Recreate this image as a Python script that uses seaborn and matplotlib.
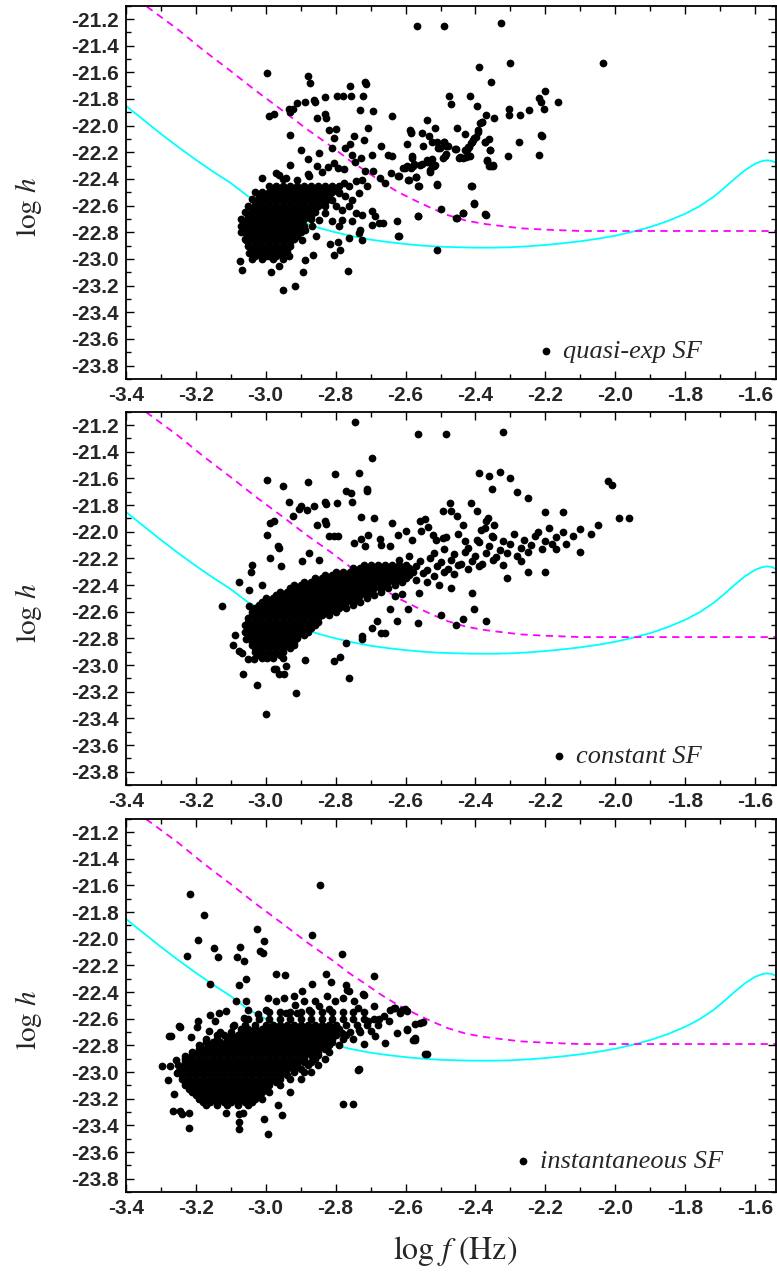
import pandas as pd
import seaborn as sns
import matplotlib
matplotlib.use('Agg')
import matplotlib.pyplot as plt
from matplotlib.ticker import MultipleLocator, FormatStrFormatter

# detector curves, identical in every panel
cyan_x = [-3.40, -3.35, -3.30, -3.25, -3.20, -3.15, -3.10, -3.05, -3.00, -2.95, -2.90, -2.85, -2.80,
          -2.75, -2.70, -2.65, -2.60, -2.55, -2.50, -2.45, -2.40, -2.35, -2.30, -2.25, -2.20, -2.15,
          -2.10, -2.05, -2.00, -1.95, -1.90, -1.85, -1.80, -1.76, -1.72, -1.69, -1.66, -1.63, -1.60,
          -1.58, -1.567, -1.555, -1.545, -1.535]
cyan_y = [-21.85, -21.955, -22.06, -22.16, -22.255, -22.345, -22.43, -22.53, -22.60, -22.66, -22.72, -22.765, -22.80,
          -22.83, -22.855, -22.873, -22.888, -22.90, -22.908, -22.912, -22.915, -22.915, -22.912, -22.905, -22.895,
          -22.882, -22.867, -22.848, -22.825, -22.795, -22.76, -22.715, -22.66, -22.605, -22.535, -22.47, -22.40,
          -22.335, -22.285, -22.265, -22.26, -22.263, -22.273, -22.29]
mag_x = [-3.40, -3.343, -3.25, -3.18, -3.10, -3.027, -2.95, -2.88, -2.81, -2.76, -2.714, -2.67, -2.62,
         -2.57, -2.525, -2.48, -2.43, -2.38, -2.335, -2.27, -2.20, -2.10, -1.535]
mag_y = [-20.99, -21.10, -21.28, -21.43, -21.59, -21.74, -21.89, -22.03, -22.16, -22.26, -22.34, -22.42, -22.50,
         -22.565, -22.62, -22.67, -22.71, -22.735, -22.75, -22.77, -22.78, -22.79, -22.79]

pts_quasi = [
    (-2.997, -21.602), (-2.879, -21.624), (-2.873, -21.682), (-2.758, -21.702), (-2.715, -21.669), (-2.712, -21.689),
    (-2.391, -21.557), (-2.355, -21.672), (-2.909, -21.831), (-2.886, -21.824), (-2.862, -21.806), (-2.859, -21.819),
    (-2.829, -21.786), (-2.797, -21.781), (-2.779, -21.781), (-2.755, -21.776), (-2.723, -21.781), (-2.475, -21.781),
    (-2.471, -21.839), (-2.416, -21.781), (-2.397, -21.849), (-2.990, -21.931), (-2.976, -21.911), (-2.933, -21.874),
    (-2.921, -21.874), (-2.930, -21.899), (-2.854, -21.944), (-2.829, -21.911), (-2.827, -21.939), (-2.729, -21.881),
    (-2.692, -21.891), (-2.639, -21.929), (-2.539, -21.959), (-2.369, -21.919), (-2.347, -21.944), (-2.381, -21.969),
    (-2.388, -21.981), (-2.930, -22.069), (-2.819, -22.031), (-2.800, -22.024), (-2.805, -22.094), (-2.747, -22.076),
    (-2.719, -22.106), (-2.708, -22.021), (-2.587, -22.036), (-2.552, -22.056), (-2.532, -22.081), (-2.516, -22.019),
    (-2.452, -22.019), (-2.431, -22.066), (-2.393, -22.036), (-2.399, -22.086), (-2.407, -22.106), (-2.362, -22.099),
    (-2.372, -22.124), (-2.413, -22.131), (-2.421, -22.161), (-2.431, -22.181), (-2.900, -22.181), (-2.879, -22.248),
    (-2.848, -22.206), (-2.810, -22.169), (-2.772, -22.169), (-2.760, -22.136), (-2.753, -22.218), (-2.726, -22.243),
    (-2.696, -22.218), (-2.670, -22.151), (-2.651, -22.218), (-2.639, -22.231), (-2.597, -22.139), (-2.582, -22.243),
    (-2.549, -22.156), (-2.525, -22.119), (-2.506, -22.169), (-2.489, -22.119), (-2.483, -22.156), (-2.486, -22.231),
    (-2.459, -22.174), (-2.445, -22.238), (-2.426, -22.238), (-2.416, -22.226), (-2.359, -22.181), (-2.368, -22.261),
    (-2.357, -22.306), (-2.350, -22.293), (-2.931, -22.293), (-2.969, -22.356), (-3.011, -22.391), (-2.961, -22.368),
    (-2.943, -22.393), (-2.876, -22.381), (-2.852, -22.301), (-2.821, -22.313), (-2.805, -22.281), (-2.793, -22.318),
    (-2.775, -22.326), (-2.745, -22.276), (-2.715, -22.338), (-2.693, -22.343), (-2.672, -22.393), (-2.658, -22.431),
    (-2.641, -22.356), (-2.622, -22.376), (-2.608, -22.318), (-2.597, -22.306), (-2.585, -22.318), (-2.575, -22.286),
    (-2.559, -22.293), (-2.540, -22.256), (-2.525, -22.306), (-2.516, -22.293), (-2.511, -22.443), (-2.592, -22.406),
    (-2.571, -22.388), (-2.563, -22.451), (-2.412, -22.456), (-2.405, -22.586), (-2.500, -22.623), (-2.437, -22.655),
    (-2.456, -22.693), (-2.372, -22.665), (-2.565, -22.680), (-2.509, -22.930),
    (-2.777, -22.431), (-2.762, -22.456), (-2.743, -22.418), (-2.724, -22.406),
    (-2.710, -22.456), (-2.734, -22.506), (-2.753, -22.556), (-2.772, -22.531), (-2.791, -22.506), (-2.810, -22.556),
    (-2.800, -22.606), (-2.781, -22.631), (-2.762, -22.606), (-2.743, -22.655), (-2.724, -22.668), (-2.753, -22.718),
    (-2.781, -22.705), (-2.810, -22.718), (-2.791, -22.755), (-2.696, -22.643), (-2.687, -22.680), (-2.677, -22.730),
    (-2.663, -22.730), (-2.696, -22.743), (-2.625, -22.718), (-2.622, -22.825), (-2.729, -22.780), (-2.724, -22.855),
    (-2.734, -22.805), (-2.762, -22.843), (-2.793, -22.875), (-2.816, -22.885), (-2.788, -22.935), (-2.805, -22.968),
    (-2.765, -23.087), (-2.829, -22.655), (-2.848, -22.705), (-2.867, -22.755), (-2.886, -22.780), (-2.857, -22.830),
    (-2.895, -22.855), (-2.88, -22.36), (-2.84, -22.35), (-2.95, -22.40), (-2.91, -22.41),
    (-3.072, -23.018), (-3.068, -23.080), (-3.056, -22.855), (-3.070, -22.800), (-3.051, -22.755), (-2.985, -23.097),
    (-2.949, -23.230), (-2.916, -23.205), (-2.892, -23.097), (-2.864, -22.968), (-2.888, -23.005), (-2.933, -22.980),
    (-2.961, -23.055), (-2.999, -22.980), (-3.023, -22.955), (-3.047, -22.955),
    (-2.568, -21.252), (-2.489, -21.250), (-2.326, -21.232), (-2.301, -21.532), (-2.035, -21.532), (-2.217, -21.794),
    (-2.201, -21.737), (-2.212, -21.824), (-2.163, -21.822), (-2.304, -21.874), (-2.304, -21.922), (-2.274, -21.922),
    (-2.247, -21.882), (-2.203, -21.874), (-2.585, -22.044), (-2.583, -22.056), (-2.382, -21.974), (-2.394, -22.049),
    (-2.404, -22.089), (-2.409, -22.124), (-2.418, -22.157), (-2.425, -22.186), (-2.435, -22.239), (-2.420, -22.231),
    (-2.446, -22.239), (-2.456, -22.176), (-2.479, -22.151), (-2.490, -22.119), (-2.511, -22.119), (-2.501, -22.164),
    (-2.484, -22.214), (-2.492, -22.244), (-2.523, -22.251), (-2.518, -22.299), (-2.540, -22.274), (-2.553, -22.286),
    (-2.530, -22.331), (-2.531, -22.349), (-2.570, -22.386), (-2.591, -22.406), (-2.582, -22.231), (-2.580, -22.306),
    (-2.601, -22.318), (-2.620, -22.374), (-2.511, -22.436), (-2.562, -22.449), (-2.409, -22.456), (-2.403, -22.581),
    (-2.565, -22.681), (-2.454, -22.693), (-2.436, -22.656), (-2.370, -22.668), (-2.373, -22.124), (-2.359, -22.186),
    (-2.367, -22.264), (-2.362, -22.306), (-2.349, -22.299), (-2.307, -22.231), (-2.276, -22.119), (-2.219, -22.219),
    (-2.214, -22.069), (-2.209, -22.074), (-2.620, -22.830),
]
# solid core of each cloud: rows of overlapping dots, one row per log h value
core_quasi = [
    (-22.45, [-2.99, -2.97, -2.95, -2.93, -2.91, -2.89, -2.87, -2.85, -2.83, -2.81, -2.79]),
    (-22.475, [-2.98, -2.96, -2.94, -2.92, -2.90, -2.88, -2.86, -2.84, -2.82, -2.80]),
    (-22.50, [-3.03, -3.01, -2.99, -2.97, -2.95, -2.93, -2.91, -2.89, -2.87, -2.85, -2.83, -2.81, -2.79]),
    (-22.525, [-3.02, -3.00, -2.98, -2.96, -2.94, -2.92, -2.90, -2.88, -2.86, -2.84, -2.82]),
    (-22.55, [-3.04, -3.02, -3.00, -2.98, -2.96, -2.94, -2.92, -2.90, -2.88, -2.86, -2.84, -2.82]),
    (-22.575, [-3.03, -3.01, -2.99, -2.97, -2.95, -2.93, -2.91, -2.89, -2.87, -2.85, -2.83]),
    (-22.60, [-3.05, -3.03, -3.01, -2.99, -2.97, -2.95, -2.93, -2.91, -2.89, -2.87, -2.85, -2.83]),
    (-22.625, [-3.04, -3.02, -3.00, -2.98, -2.96, -2.94, -2.92, -2.90, -2.88, -2.86]),
    (-22.65, [-3.06, -3.04, -3.02, -3.00, -2.98, -2.96, -2.94, -2.92, -2.90, -2.88, -2.86]),
    (-22.675, [-3.05, -3.03, -3.01, -2.99, -2.97, -2.95, -2.93, -2.91, -2.89, -2.87]),
    (-22.70, [-3.07, -3.05, -3.03, -3.01, -2.99, -2.97, -2.95, -2.93, -2.91, -2.89, -2.87]),
    (-22.725, [-3.06, -3.04, -3.02, -3.00, -2.98, -2.96, -2.94, -2.92, -2.90]),
    (-22.75, [-3.07, -3.05, -3.03, -3.01, -2.99, -2.97, -2.95, -2.93, -2.91, -2.89]),
    (-22.775, [-3.06, -3.04, -3.02, -3.00, -2.98, -2.96, -2.94, -2.92, -2.90]),
    (-22.80, [-3.06, -3.04, -3.02, -3.00, -2.98, -2.96, -2.94, -2.92, -2.90]),
    (-22.825, [-3.05, -3.03, -3.01, -2.99, -2.97, -2.95, -2.93, -2.91]),
    (-22.85, [-3.06, -3.04, -3.02, -3.00, -2.98, -2.96, -2.94, -2.92]),
    (-22.875, [-3.05, -3.03, -3.01, -2.99, -2.97, -2.95, -2.93]),
    (-22.90, [-3.05, -3.03, -3.01, -2.99, -2.97, -2.95, -2.93]),
    (-22.925, [-3.04, -3.02, -3.00, -2.98, -2.96, -2.94]),
    (-22.95, [-3.04, -3.02, -3.00, -2.98, -2.96, -2.94]),
    (-22.975, [-3.03, -3.01, -2.99, -2.97, -2.95]),
    (-23.00, [-3.04, -3.01, -2.98, -2.95]),
]

pts_const = [
    (-2.745, -21.18), (-2.563, -21.27), (-2.483, -21.27), (-2.321, -21.25),
    (-2.695, -21.450), (-2.801, -21.567), (-2.734, -21.560), (-2.390, -21.562), (-2.362, -21.585), (-2.353, -21.677),
    (-2.996, -21.610), (-2.951, -21.660), (-2.879, -21.630), (-2.769, -21.697), (-2.755, -21.710), (-2.711, -21.677),
    (-2.709, -21.697), (-2.933, -21.774), (-2.905, -21.827), (-2.900, -21.809), (-2.883, -21.834), (-2.862, -21.809),
    (-2.829, -21.779), (-2.828, -21.792), (-2.796, -21.784), (-2.753, -21.779), (-2.987, -21.934), (-2.976, -21.917),
    (-2.922, -21.879), (-2.852, -21.947), (-2.829, -21.922), (-2.827, -21.939), (-2.727, -21.887), (-2.691, -21.897),
    (-2.639, -21.932), (-2.473, -21.784), (-2.414, -21.784), (-2.492, -21.847), (-2.470, -21.847), (-2.453, -21.884),
    (-2.397, -21.847), (-2.435, -21.947), (-2.369, -21.922), (-2.348, -21.947), (-2.364, -21.897), (-2.995, -22.022),
    (-2.966, -22.109), (-2.962, -22.122), (-2.987, -22.196), (-3.039, -22.251), (-3.042, -22.301), (-2.957, -22.254),
    (-3.075, -22.376), (-3.047, -22.434), (-3.011, -22.401), (-3.125, -22.559), (-3.047, -22.559), (-2.875, -22.159),
    (-2.895, -22.221), (-2.848, -22.209), (-2.818, -22.034), (-2.804, -22.029), (-2.793, -22.029), (-2.746, -22.084),
    (-2.726, -22.054), (-2.715, -22.109), (-2.708, -22.027), (-2.672, -22.054), (-2.669, -22.097), (-2.644, -22.109),
    (-2.622, -22.022), (-2.599, -21.997), (-2.582, -22.059), (-2.558, -21.922), (-2.544, -21.902), (-2.537, -21.964),
    (-2.556, -21.992), (-2.521, -22.022), (-2.514, -22.059), (-2.492, -22.047), (-2.483, -22.042), (-2.450, -22.017),
    (-2.431, -22.072), (-2.397, -22.059), (-2.383, -21.984), (-2.372, -21.972), (-2.352, -22.034), (-2.505, -22.396),
    (-2.470, -22.421), (-2.409, -22.459), (-2.403, -22.583), (-2.499, -22.628), (-2.435, -22.658), (-2.456, -22.696),
    (-2.369, -22.671), (-2.563, -22.683), (-2.625, -22.671), (-2.644, -22.583), (-2.592, -22.583), (-2.562, -22.459),
    (-2.609, -22.464), (-2.630, -22.484), (-3.066, -23.070), (-3.025, -23.153), (-2.914, -23.208), (-2.762, -23.095),
    (-2.805, -22.971), (-2.786, -22.938), (-2.888, -22.963), (-2.770, -22.838), (-2.724, -22.808), (-2.724, -22.783),
    (-2.696, -22.721), (-2.669, -22.758), (-2.658, -22.758), (-2.682, -22.671), (-3.087, -22.778), (-3.094, -22.846),
    (-3.075, -22.898), (-3.068, -22.908), (-3.049, -22.958), (-3.033, -22.958), (-2.962, -23.070), (-2.947, -23.070),
    (-2.969, -23.033), (-2.976, -23.033), (-2.941, -23.008), (-2.995, -22.946), (-3.018, -22.883), (-3.028, -22.833),
    (-3.056, -22.808), (-3.00, -23.37),
    (-2.22, -22.00), (-2.19, -21.97), (-2.15, -22.00), (-2.12, -22.03), (-2.10, -21.98), (-2.07, -22.02),
    (-2.14, -22.09), (-2.17, -22.13), (-2.02, -21.62), (-2.01, -21.65), (-2.05, -21.95), (-1.99, -21.90),
    (-1.96, -21.90), (-2.25, -21.75), (-2.30, -21.60), (-2.33, -21.55), (-2.28, -21.70), (-2.20, -21.85),
    (-2.15, -21.85), (-2.10, -22.15), (-2.25, -22.30), (-2.20, -22.30), (-2.31, -22.35), (-2.27, -22.22),
    # right half of the band, where single dots can still be told apart
    (-2.35, -22.04), (-2.32, -22.07), (-2.29, -22.02), (-2.26, -22.06), (-2.23, -22.03), (-2.20, -22.07),
    (-2.17, -22.04), (-2.42, -22.12), (-2.39, -22.08), (-2.36, -22.11), (-2.33, -22.14), (-2.30, -22.09),
    (-2.27, -22.12), (-2.24, -22.10), (-2.21, -22.13), (-2.18, -22.09), (-2.52, -22.16), (-2.49, -22.13),
    (-2.46, -22.17), (-2.43, -22.15), (-2.40, -22.18), (-2.37, -22.16), (-2.34, -22.19), (-2.31, -22.16),
    (-2.28, -22.18), (-2.25, -22.15), (-2.62, -22.21), (-2.59, -22.18), (-2.56, -22.22), (-2.53, -22.20),
    (-2.50, -22.23), (-2.47, -22.21), (-2.44, -22.24), (-2.41, -22.22), (-2.38, -22.24), (-2.35, -22.21),
    (-2.32, -22.25), (-2.57, -22.26), (-2.54, -22.29), (-2.51, -22.26), (-2.48, -22.28), (-2.45, -22.25),
    (-2.42, -22.28), (-2.39, -22.26), (-2.55, -22.31), (-2.52, -22.33), (-2.49, -22.30), (-2.46, -22.32),
    (-2.57, -22.36), (-2.54, -22.38),
]
core_const = [
    (-22.25, [-2.72, -2.70, -2.68, -2.66, -2.64, -2.62, -2.60]),
    (-22.275, [-2.75, -2.73, -2.71, -2.69, -2.67, -2.65, -2.63, -2.61, -2.59]),
    (-22.30, [-2.80, -2.78, -2.76, -2.74, -2.72, -2.70, -2.68, -2.66, -2.64, -2.62, -2.60, -2.58]),
    (-22.325, [-2.83, -2.81, -2.79, -2.77, -2.75, -2.73, -2.71, -2.69, -2.67, -2.65, -2.63, -2.61, -2.59]),
    (-22.35, [-2.86, -2.84, -2.82, -2.80, -2.78, -2.76, -2.74, -2.72, -2.70, -2.68, -2.66, -2.64, -2.62, -2.60]),
    (-22.375, [-2.89, -2.87, -2.85, -2.83, -2.81, -2.79, -2.77, -2.75, -2.73, -2.71, -2.69, -2.67, -2.65, -2.63,
               -2.61]),
    (-22.40, [-2.92, -2.90, -2.88, -2.86, -2.84, -2.82, -2.80, -2.78, -2.76, -2.74, -2.72, -2.70, -2.68, -2.66,
              -2.63]),
    (-22.425, [-2.93, -2.91, -2.89, -2.87, -2.85, -2.83, -2.81, -2.79, -2.77, -2.75, -2.73, -2.71, -2.69, -2.67,
               -2.65]),
    (-22.45, [-2.96, -2.94, -2.92, -2.90, -2.88, -2.86, -2.84, -2.82, -2.80, -2.78, -2.76, -2.74, -2.72, -2.70,
              -2.67]),
    (-22.475, [-2.97, -2.95, -2.93, -2.91, -2.89, -2.87, -2.85, -2.83, -2.81, -2.79, -2.77, -2.75, -2.73, -2.71,
               -2.69]),
    (-22.50, [-3.00, -2.98, -2.96, -2.94, -2.92, -2.90, -2.88, -2.86, -2.84, -2.82, -2.80, -2.78, -2.76, -2.74,
              -2.71]),
    (-22.525, [-3.01, -2.99, -2.97, -2.95, -2.93, -2.91, -2.89, -2.87, -2.85, -2.83, -2.81, -2.79, -2.77, -2.75,
               -2.73]),
    (-22.55, [-3.02, -3.00, -2.98, -2.96, -2.94, -2.92, -2.90, -2.88, -2.86, -2.84, -2.82, -2.80, -2.78, -2.75]),
    (-22.575, [-3.03, -3.01, -2.99, -2.97, -2.95, -2.93, -2.91, -2.89, -2.87, -2.85, -2.83, -2.81, -2.79, -2.77]),
    (-22.60, [-3.04, -3.02, -3.00, -2.98, -2.96, -2.94, -2.92, -2.90, -2.88, -2.86, -2.84, -2.82, -2.80]),
    (-22.625, [-3.04, -3.02, -3.00, -2.98, -2.96, -2.94, -2.92, -2.90, -2.88, -2.86, -2.84, -2.82]),
    (-22.65, [-3.05, -3.03, -3.01, -2.99, -2.97, -2.95, -2.93, -2.91, -2.89, -2.87, -2.85]),
    (-22.675, [-3.05, -3.03, -3.01, -2.99, -2.97, -2.95, -2.93, -2.91, -2.89, -2.87, -2.85]),
    (-22.70, [-3.06, -3.04, -3.02, -3.00, -2.98, -2.96, -2.94, -2.92, -2.90, -2.88, -2.86]),
    (-22.725, [-3.05, -3.03, -3.01, -2.99, -2.97, -2.95, -2.93, -2.91, -2.89, -2.87]),
    (-22.75, [-3.06, -3.04, -3.02, -3.00, -2.98, -2.96, -2.94, -2.92, -2.90, -2.88]),
    (-22.775, [-3.05, -3.03, -3.01, -2.99, -2.97, -2.95, -2.93, -2.91, -2.89]),
    (-22.80, [-3.05, -3.03, -3.01, -2.99, -2.97, -2.95, -2.93, -2.91]),
    (-22.825, [-3.04, -3.02, -3.00, -2.98, -2.96, -2.94, -2.92]),
    (-22.85, [-3.04, -3.02, -3.00, -2.98, -2.96, -2.94, -2.92]),
    (-22.875, [-3.03, -3.01, -2.99, -2.97, -2.95, -2.93]),
    (-22.90, [-3.03, -3.01, -2.99, -2.97, -2.95]),
    (-22.925, [-3.02, -3.00, -2.98, -2.96]),
    (-22.95, [-3.01, -2.98, -2.95]),
]

pts_inst = [
    (-3.217, -21.667), (-2.844, -21.595), (-3.175, -21.820), (-3.192, -22.007), (-3.225, -22.132), (-3.148, -22.067),
    (-3.137, -22.137), (-3.073, -22.064), (-3.082, -22.137), (-3.062, -22.169), (-3.026, -21.929), (-3.005, -22.019),
    (-3.015, -22.094), (-3.008, -22.107), (-2.868, -21.969), (-2.781, -22.117), (-3.158, -22.336), (-3.075, -22.349),
    (-3.056, -22.299), (-2.971, -22.264), (-2.945, -22.269), (-2.868, -22.339), (-2.826, -22.264), (-2.691, -22.277),
    (-2.814, -22.326), (-2.771, -22.349), (-2.762, -22.394), (-2.721, -22.411), (-2.549, -22.626), (-2.544, -22.868),
    (-3.244, -22.661), (-3.271, -22.731), (-3.297, -22.951), (-3.212, -22.738), (-3.163, -22.694), (-3.196, -22.664),
    (-3.192, -22.619), (-3.160, -22.569), (-3.146, -22.619), (-3.132, -22.556), (-3.113, -22.539), (-3.084, -22.469),
    (-3.056, -22.469), (-3.051, -22.531), (-3.094, -22.656), (-3.061, -22.594), (-3.023, -22.561), (-2.994, -22.444),
    (-2.999, -22.531), (-2.971, -22.469), (-2.947, -22.444), (-2.942, -22.556), (-2.918, -22.431), (-2.897, -22.394),
    (-2.890, -22.469), (-2.915, -22.494), (-2.909, -22.556), (-2.876, -22.531), (-2.859, -22.469), (-2.847, -22.506),
    (-2.824, -22.431), (-2.819, -22.526), (-2.802, -22.469), (-2.779, -22.444), (-2.767, -22.381), (-2.748, -22.469),
    (-2.736, -22.519), (-2.719, -22.419), (-2.707, -22.619), (-2.691, -22.506), (-2.675, -22.601), (-2.662, -22.581),
    (-2.643, -22.531), (-2.629, -22.519), (-2.615, -22.556), (-2.601, -22.526), (-2.572, -22.636), (-2.596, -22.676),
    (-2.574, -22.756), (-2.625, -22.706), (-2.648, -22.619), (-2.658, -22.781), (-2.686, -22.731), (-2.700, -22.694),
    (-2.719, -22.793), (-2.734, -22.681), (-2.735, -22.981), (-2.781, -22.706), (-2.800, -22.656), (-2.838, -22.681),
    (-3.132, -22.806), (-3.160, -22.831), (-3.189, -22.806), (-3.208, -22.856), (-3.231, -22.881), (-3.255, -22.906),
    (-3.274, -22.956),
    (-3.278, -23.063), (-3.266, -23.293), (-3.245, -23.293), (-3.239, -23.318), (-3.220, -23.305), (-3.220, -23.418),
    (-3.261, -23.168), (-3.253, -23.006), (-3.276, -22.731), (-3.247, -22.656), (-3.004, -23.355), (-2.992, -23.467),
    (-3.076, -23.375), (-3.076, -23.430), (-3.075, -23.318), (-3.066, -23.305), (-2.952, -23.325), (-2.965, -23.250),
    (-3.113, -23.305), (-2.778, -23.243), (-2.751, -23.243), (-2.733, -22.980), (-2.539, -22.868), (-2.560, -22.631),
    (-2.578, -22.756), (-2.572, -22.743), (-2.597, -22.681), (-2.609, -22.531), (-2.597, -22.544), (-2.634, -22.519),
    (-2.93, -23.15), (-2.90, -23.05), (-2.87, -23.00),
]
core_inst = [
    (-22.55, [-2.99, -2.96, -2.93, -2.90, -2.87, -2.84, -2.81, -2.78, -2.75, -2.72]),
    (-22.60, [-3.05, -3.02, -2.99, -2.96, -2.93, -2.90, -2.87, -2.84, -2.81, -2.78, -2.75, -2.72, -2.69]),
    (-22.65, [-3.09, -3.06, -3.03, -3.00, -2.98, -2.96, -2.94, -2.92, -2.90, -2.88, -2.86, -2.84, -2.82, -2.80,
              -2.77, -2.74, -2.71, -2.68]),
    (-22.675, [-3.07, -3.05, -3.03, -3.01, -2.99, -2.97, -2.95, -2.93, -2.91, -2.89, -2.87, -2.85, -2.83, -2.81,
               -2.79]),
    (-22.70, [-3.13, -3.10, -3.07, -3.05, -3.03, -3.01, -2.99, -2.97, -2.95, -2.93, -2.91, -2.89, -2.87, -2.85,
              -2.83, -2.81, -2.79, -2.76, -2.73]),
    (-22.725, [-3.14, -3.12, -3.10, -3.08, -3.06, -3.04, -3.02, -3.00, -2.98, -2.96, -2.94, -2.92, -2.90, -2.88,
               -2.86, -2.84, -2.82, -2.80, -2.77]),
    (-22.75, [-3.17, -3.14, -3.11, -3.09, -3.07, -3.05, -3.03, -3.01, -2.99, -2.97, -2.95, -2.93, -2.91, -2.89,
              -2.87, -2.85, -2.83, -2.81, -2.78, -2.75]),
    (-22.775, [-3.17, -3.15, -3.13, -3.11, -3.09, -3.07, -3.05, -3.03, -3.01, -2.99, -2.97, -2.95, -2.93, -2.91,
               -2.89, -2.87, -2.85, -2.83, -2.81]),
    (-22.80, [-3.19, -3.16, -3.14, -3.12, -3.10, -3.08, -3.06, -3.04, -3.02, -3.00, -2.98, -2.96, -2.94, -2.92,
              -2.90, -2.88, -2.86, -2.84, -2.82, -2.79]),
    (-22.825, [-3.19, -3.17, -3.15, -3.13, -3.11, -3.09, -3.07, -3.05, -3.03, -3.01, -2.99, -2.97, -2.95, -2.93,
               -2.91, -2.89, -2.87, -2.85, -2.83]),
    (-22.85, [-3.21, -3.19, -3.17, -3.15, -3.13, -3.11, -3.09, -3.07, -3.05, -3.03, -3.01, -2.99, -2.97, -2.95,
              -2.93, -2.91, -2.89, -2.87, -2.85, -2.82]),
    (-22.875, [-3.21, -3.19, -3.17, -3.15, -3.13, -3.11, -3.09, -3.07, -3.05, -3.03, -3.01, -2.99, -2.97, -2.95,
               -2.93, -2.91, -2.89, -2.87, -2.85]),
    (-22.90, [-3.23, -3.21, -3.19, -3.17, -3.15, -3.13, -3.11, -3.09, -3.07, -3.05, -3.03, -3.01, -2.99, -2.97,
              -2.95, -2.93, -2.91, -2.89, -2.86, -2.83]),
    (-22.925, [-3.23, -3.21, -3.19, -3.17, -3.15, -3.13, -3.11, -3.09, -3.07, -3.05, -3.03, -3.01, -2.99, -2.97,
               -2.95, -2.93, -2.91, -2.89, -2.87]),
    (-22.95, [-3.25, -3.23, -3.21, -3.19, -3.17, -3.15, -3.13, -3.11, -3.09, -3.07, -3.05, -3.03, -3.01, -2.99,
              -2.97, -2.95, -2.93, -2.91, -2.88, -2.85]),
    (-22.975, [-3.24, -3.22, -3.20, -3.18, -3.16, -3.14, -3.12, -3.10, -3.08, -3.06, -3.04, -3.02, -3.00, -2.98,
               -2.96, -2.94, -2.92, -2.90]),
    (-23.00, [-3.25, -3.23, -3.21, -3.19, -3.17, -3.15, -3.13, -3.11, -3.09, -3.07, -3.05, -3.03, -3.01, -2.99,
              -2.97, -2.95, -2.92, -2.89]),
    (-23.025, [-3.24, -3.22, -3.20, -3.18, -3.16, -3.14, -3.12, -3.10, -3.08, -3.06, -3.04, -3.02, -3.00, -2.98,
               -2.96, -2.94]),
    (-23.05, [-3.24, -3.22, -3.20, -3.18, -3.16, -3.14, -3.12, -3.10, -3.08, -3.06, -3.04, -3.02, -3.00, -2.98,
              -2.96, -2.93]),
    (-23.075, [-3.23, -3.21, -3.19, -3.17, -3.15, -3.13, -3.11, -3.09, -3.07, -3.05, -3.03, -3.01, -2.99, -2.97]),
    (-23.10, [-3.23, -3.21, -3.19, -3.17, -3.15, -3.13, -3.11, -3.09, -3.07, -3.05, -3.03, -3.01, -2.99, -2.96]),
    (-23.125, [-3.22, -3.20, -3.18, -3.16, -3.14, -3.12, -3.10, -3.08, -3.06, -3.04, -3.02, -3.00]),
    (-23.15, [-3.21, -3.19, -3.17, -3.15, -3.13, -3.11, -3.09, -3.07, -3.05, -3.03, -3.01, -2.99]),
    (-23.175, [-3.20, -3.18, -3.16, -3.14, -3.12, -3.10, -3.08, -3.06, -3.04, -3.02]),
    (-23.20, [-3.19, -3.17, -3.15, -3.13, -3.11, -3.09, -3.07, -3.05, -3.03, -3.01]),
    (-23.225, [-3.18, -3.16, -3.14, -3.12, -3.10, -3.08, -3.06, -3.04]),
    (-23.25, [-3.17, -3.14, -3.11, -3.08, -3.05]),
]

labels = ['quasi-exp SF', 'constant SF', 'instantaneous SF']
legend_anchor = [(0.886, 0.075), (0.886, 0.078), (0.919, 0.083)]
panel_bottoms = [0.7023, 0.3833, 0.0636]

sns.set_style('ticks')
plt.rcParams['font.family'] = ['Liberation Sans', 'DejaVu Sans']
plt.rcParams['mathtext.fontset'] = 'stix'
plt.rcParams['axes.unicode_minus'] = False

fig = plt.figure(figsize=(7.77, 12.73), dpi=100)
W = 777.0
H = 1273.0

for pts, core, name, anchor, bottom in zip([pts_quasi, pts_const, pts_inst], [core_quasi, core_const, core_inst],
                                           labels, legend_anchor, panel_bottoms):
    ax = fig.add_axes([125.7 / W, bottom, 650.6 / W, 373.3 / H])
    rows = list(pts) + [(x, y) for y, xs in core for x in xs]
    df = pd.DataFrame(rows, columns=['logf', 'logh'])

    sns.lineplot(x=cyan_x, y=cyan_y, color='#00FFFF', lw=1.3, sort=False, estimator=None, ax=ax)
    sns.lineplot(x=mag_x, y=mag_y, color='#FF00FF', lw=1.3, sort=False, estimator=None, ax=ax)
    ax.lines[-1].set_dashes([4, 3])
    sns.scatterplot(data=df, x='logf', y='logh', color='black', s=31, linewidth=0,
                    label=name, ax=ax, zorder=3)

    ax.set_xlim(-3.4, -1.54)
    ax.set_ylim(-23.9, -21.1)
    ax.xaxis.set_major_locator(MultipleLocator(0.2))
    ax.xaxis.set_minor_locator(MultipleLocator(0.1))
    ax.yaxis.set_major_locator(MultipleLocator(0.2))
    ax.yaxis.set_minor_locator(MultipleLocator(0.1))
    ax.xaxis.set_major_formatter(FormatStrFormatter('%.1f'))
    ax.yaxis.set_major_formatter(FormatStrFormatter('%.1f'))
    ax.tick_params(which='both', direction='in', top=True, right=True, width=1.0, color='black')
    ax.tick_params(which='major', length=6, labelsize=15)
    ax.tick_params(which='minor', length=3.5)
    ax.tick_params(axis='x', pad=5)
    ax.tick_params(axis='y', pad=5)
    for lab in ax.get_xticklabels() + ax.get_yticklabels():
        lab.set_fontweight('bold')
    for sp in ax.spines.values():
        sp.set_linewidth(1.3)
        sp.set_color('black')
    ax.set_xlabel('')
    ax.set_ylabel('')

    ax.legend(loc='center right', bbox_to_anchor=anchor, frameon=False, borderpad=0, borderaxespad=0,
              handlelength=0.5, handletextpad=0.4, markerscale=1.0,
              prop=dict(family='Liberation Serif', style='italic', size=19))

    fig.text(28 / W, bottom + 0.46 * 373.3 / H, r'$\mathrm{log}\ h$', rotation=90,
             ha='center', va='center', fontsize=21)

fig.text(455 / W, 1 - 1251 / H, r'$\mathrm{log}\ f\ \mathrm{(Hz)}$', ha='center', va='center', fontsize=23)

fig.savefig('out.png', dpi=100)
